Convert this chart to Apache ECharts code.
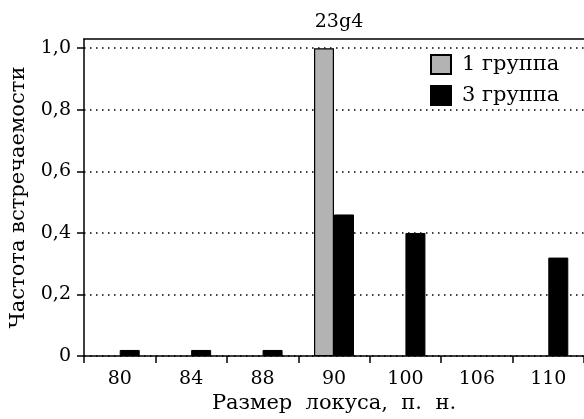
<!DOCTYPE html>
<html>
<head>
<meta charset="utf-8">
<script src="https://cdn.jsdelivr.net/npm/echarts@6/dist/echarts.min.js"></script>
<style>html,body{margin:0;padding:0;background:#fff}#c{width:584px;height:419px}</style>
</head>
<body>
<div id="c"></div>
<script>
var categories = ['80', '84', '88', '90', '100', '106', '110'];
var group1 = [0, 0, 0, 1.0, 0, 0, 0];
var group3 = [0.02, 0.02, 0.02, 0.46, 0.40, 0, 0.32];
var yTicks = [0, 0.2, 0.4, 0.6, 0.8, 1.0];
var seriesNames = ['1 группа', '3 группа'];
var titleText = '23g4';
var yName = 'Частота встречаемости';
var xName = 'Размер  локуса,  п.  н.';

// zero frequencies are drawn as no bar at all
function bars(arr) { return arr.map(function (v) { return v === 0 ? null : v; }); }

var FONT = 'DejaVu Serif';
var chart = echarts.init(document.getElementById('c'), null, {renderer: 'canvas'});
chart.setOption({
  animation: false,
  backgroundColor: '#fff',
  textStyle: {fontFamily: FONT, color: '#000'},
  title: {
    text: titleText, left: 334, top: 8, textAlign: 'center',
    textStyle: {fontFamily: FONT, fontSize: 19, fontWeight: 'normal', color: '#000'}
  },
  legend: {
    data: seriesNames, orient: 'vertical', left: 430, top: 54, padding: 0,
    icon: 'rect', itemWidth: 20, itemHeight: 19, itemGap: 10,
    textStyle: {fontFamily: FONT, fontSize: 21, lineHeight: 19, color: '#000', padding: [0, 0, 0, 6]}
  },
  grid: {left: 83, right: -2, top: 39, bottom: 61, containLabel: false},
  xAxis: [{
    type: 'category', data: categories, position: 'bottom',
    axisLine: {lineStyle: {color: '#000', width: 1.5}},
    axisTick: {show: true, length: 7, inside: false, lineStyle: {color: '#000', width: 1.5}},
    axisLabel: {fontFamily: FONT, fontSize: 19, color: '#000', margin: 13},
    name: xName, nameLocation: 'middle', nameGap: 36,
    nameTextStyle: {fontFamily: FONT, fontSize: 21, color: '#000'}
  }, {
    type: 'category', data: categories, position: 'top',
    axisLine: {show: true, lineStyle: {color: '#000', width: 1.5}},
    axisTick: {show: false}, axisLabel: {show: false}, splitLine: {show: false}
  }],
  yAxis: {
    type: 'value', min: 0, max: 1.03,
    axisLine: {show: true, lineStyle: {color: '#000', width: 1.5}},
    axisTick: {show: true, length: 7, customValues: yTicks, lineStyle: {color: '#000', width: 1.5}},
    axisLabel: {
      customValues: yTicks, fontFamily: FONT, fontSize: 19, color: '#000', margin: 13,
      formatter: function (v) { return v === 0 ? '0' : v.toFixed(1).replace('.', ','); }
    },
    splitLine: {show: true, lineStyle: {color: '#000', width: 1.5, type: [1.5, 4.5]}},
    name: yName, nameLocation: 'middle', nameGap: 55, nameRotate: 90,
    nameTextStyle: {fontFamily: FONT, fontSize: 21, color: '#000'}
  },
  series: [{
    name: seriesNames[0], type: 'bar', data: bars(group1), barWidth: 20, barGap: '0%',
    itemStyle: {color: '#b3b3b3', borderColor: '#000', borderWidth: 1.2}
  }, {
    name: seriesNames[1], type: 'bar', data: bars(group3), barWidth: 20, barGap: '0%',
    itemStyle: {color: '#000', borderColor: '#000', borderWidth: 1}
  }]
});
</script>
</body>
</html>
